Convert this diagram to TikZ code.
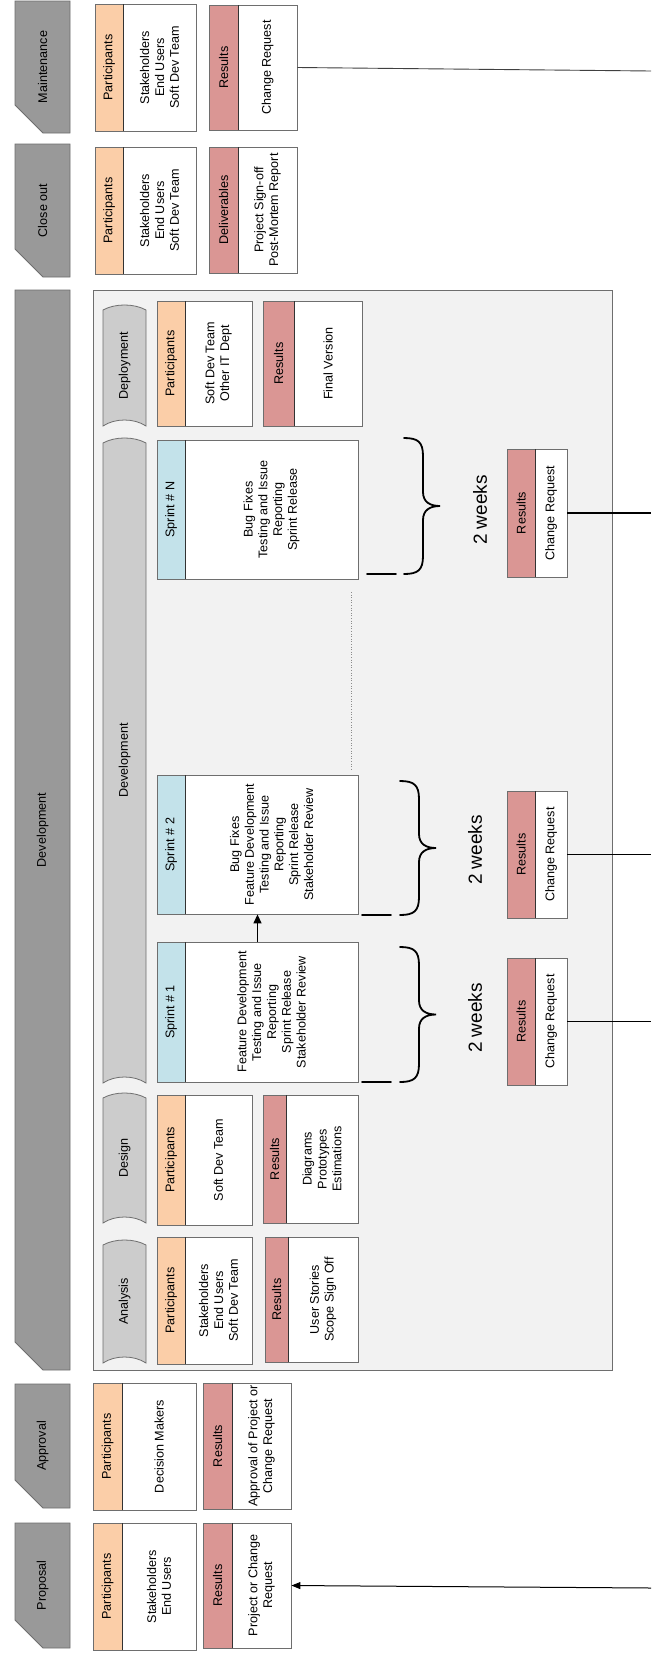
\documentclass[tikz,border=0pt]{standalone}
\usepackage{fontspec}
\setmainfont{Liberation Sans}
\usetikzlibrary{arrows.meta,calc}
\definecolor{phasegray}{HTML}{999999}
\definecolor{bookgray}{HTML}{CCCCCC}
\definecolor{contgray}{HTML}{F2F2F2}
\definecolor{edgegray}{HTML}{6E6E6E}
\definecolor{sepdark}{HTML}{333333}
\definecolor{peach}{HTML}{FBCEA8}
\definecolor{rose}{HTML}{DA9694}
\definecolor{skyb}{HTML}{C3E2EA}
\tikzset{
  base/.style={font=\fontsize{12.6}{14.8}\selectfont, inner sep=0pt, align=center, text=black},
  phase/.style={fill=phasegray, draw=edgegray, line width=0.8pt},
  bookshape/.style={fill=bookgray, draw=edgegray, line width=0.8pt},
  cont/.style={fill=contgray, draw=edgegray, line width=0.8pt},
  stripbox/.style={base, rotate=90, draw=edgegray, line width=0.8pt},
  bodybox/.style={base, rotate=90, fill=white, draw=edgegray, line width=0.8pt},
  sepline/.style={draw=sepdark, line width=0.9pt},
  bracestyle/.style={draw=black, line width=1.8pt, line cap=round},
  weeks/.style={font=\fontsize{19}{21}\selectfont, rotate=90, inner sep=0pt},
  conn/.style={draw=black, line width=1.3pt},
  thinconn/.style={draw=black!75, line width=0.9pt},
}
% name, x0, xs, x1, y0, y1, colour, strip label, body
\newcommand\tagbox[9]{%
  \pgfmathsetmacro\cxa{(#2+#3)/2}\pgfmathsetmacro\cxb{(#3+#4)/2}%
  \pgfmathsetmacro\cyy{(#5+#6)/2}\pgfmathsetmacro\hh{#6-#5}%
  \pgfmathsetmacro\wa{#3-#2}\pgfmathsetmacro\wb{#4-#3}%
  \node[bodybox, minimum width=\hh pt, minimum height=\wb pt] (#1) at (\cxb,\cyy) {#9};
  \node[stripbox, fill=#7, minimum width=\hh pt, minimum height=\wa pt] (#1s) at (\cxa,\cyy) {#8};
  \draw[sepline] (#1s.south west) -- (#1s.south east);
}
% name, y0, y1, label
\newcommand\phaseshape[4]{%
  \draw[phase] (15,#2) -- (70,#2) -- (70,#3) -- (43,#3) -- (15,#3-28) -- cycle;
  \pgfmathsetmacro\cyy{(#2+#3)/2}%
  \node[base, rotate=90] (#1) at (42.5,\cyy) {#4};
}
% name, y0, y1, label
\newcommand\bookshp[4]{%
  \draw[bookshape] (103,#2+5) .. controls (115,#2-1.7) and (134,#2-1.7) .. (146,#2+5)
     -- (146,#3) .. controls (134,#3-8) and (115,#3-8) .. (103,#3) -- cycle;
  \pgfmathsetmacro\cyy{(#2+#3)/2}%
  \node[base, rotate=90] (#1) at (124.5,\cyy) {#4};
}
% x0, y0, y1
\newcommand\wbrace[3]{%
  \pgfmathsetmacro\ym{(#2+#3)/2}%
  \draw[bracestyle] (#1,#2) .. controls (#1+14,#2) and (#1+19,#2+4) .. (#1+19,#2+18)
    -- (#1+19,\ym-14) .. controls (#1+19,\ym-4) and (#1+26,\ym) .. (#1+36,\ym)
    .. controls (#1+26,\ym) and (#1+19,\ym+4) .. (#1+19,\ym+14)
    -- (#1+19,#3-18) .. controls (#1+19,#3-4) and (#1+14,#3) .. (#1,#3);
}
\begin{document}
\begin{tikzpicture}[x=1pt,y=-1pt]
\useasboundingbox (0,0) rectangle (651,1655);
\fill[white] (0,0) rectangle (651,1655);
% phase column
\phaseshape{pMaint}{1}{133}{Maintenance}
\phaseshape{pClose}{144}{277}{Close out}
\phaseshape{pDev}{290}{1370}{Development}
\phaseshape{pAppr}{1384}{1508}{Approval}
\phaseshape{pProp}{1523}{1648}{Proposal}
% maintenance & close out
\tagbox{mPart}{95}{123}{196}{4}{131}{peach}{Participants}{Stakeholders\\End Users\\Soft Dev Team}
\tagbox{mRes}{209}{238}{297}{5}{130}{rose}{Results}{Change Request}
\tagbox{cPart}{95}{123}{196}{147}{274}{peach}{Participants}{Stakeholders\\End Users\\Soft Dev Team}
\tagbox{cDel}{209}{238}{297}{147}{273}{rose}{Deliverables}{Project Sign-off\\Post-Mortem Report}
% development container
\draw[cont] (93,290) rectangle (612,1370);
\bookshp{bDeploy}{305}{426}{Deployment}
\bookshp{bDev}{438}{1083}{Development}
\bookshp{bDesign}{1093}{1223}{Design}
\bookshp{bAnal}{1240}{1363}{Analysis}
\tagbox{dPart}{157}{185}{252}{301}{426}{peach}{Participants}{\fontsize{12.6}{12}\selectfont Soft Dev Team\\Other IT Dept}
\tagbox{dRes}{263}{294}{362}{301}{426}{rose}{Results}{Final Version}
\tagbox{sN}{157}{185}{358}{440}{579}{skyb}{Sprint \# N}{Bug Fixes\\Testing and Issue\\Reporting\\Sprint Release}
\tagbox{sTwo}{157}{185}{358}{775}{914}{skyb}{Sprint \# 2}{Bug Fixes\\Feature Development\\Testing and Issue\\Reporting\\Sprint Release\\Stakeholder Review}
\tagbox{sOne}{157}{185}{358}{942}{1082}{skyb}{Sprint \# 1}{Feature Development\\Testing and Issue\\Reporting\\Sprint Release\\Stakeholder Review}
\tagbox{gPart}{157}{185}{252}{1095}{1225}{peach}{Participants}{Soft Dev Team}
\tagbox{gRes}{263}{286}{358}{1095}{1223}{rose}{Results}{Diagrams\\Prototypes\\Estimations}
\tagbox{aPart}{157}{185}{252}{1237}{1364}{peach}{Participants}{Stakeholders\\End Users\\Soft Dev Team}
\tagbox{aRes}{265}{288}{358}{1237}{1362}{rose}{Results}{User Stories\\Scope Sign Off}
% sprint results
\tagbox{rN}{507}{535}{567}{449}{577}{rose}{Results}{Change Request}
\tagbox{rTwo}{507}{535}{567}{791}{918}{rose}{Results}{Change Request}
\tagbox{rOne}{507}{535}{567}{958}{1085}{rose}{Results}{Change Request}
% braces and durations
\wbrace{404}{438}{574}
\wbrace{400}{781}{915}
\wbrace{400}{947}{1082}
\draw[bracestyle] (367,574) -- (396,574);
\draw[bracestyle] (362,915) -- (391,915);
\draw[bracestyle] (362,1082) -- (391,1082);
\node[weeks] (wN) at (480,510) {2 weeks};
\node[weeks] (wTwo) at (475,850) {2 weeks};
\node[weeks] (wOne) at (475,1018) {2 weeks};
% dotted continuation
\draw[draw=black!45, dotted, line width=0.6pt] (351,592) -- (351,770);
% sprint arrow
\draw[conn, -{Triangle[length=9pt,width=8pt]}] ($(sOnes.north east)!0.5!(sOne.south east)$) -- ($(sTwos.north west)!0.5!(sTwo.south west)$);
% approval & proposal
\tagbox{apPart}{93}{122}{196}{1383}{1510}{peach}{Participants}{Decision Makers}
\tagbox{apRes}{203}{232}{291}{1383}{1509}{rose}{Results}{Approval of Project or\\Change Request}
\tagbox{prPart}{93}{122}{196}{1523}{1650}{peach}{Participants}{Stakeholders\\End Users}
\tagbox{prRes}{203}{232}{291}{1523}{1648}{rose}{Results}{Project or Change\\Request}
% connectors to the right edge
\coordinate (eM) at (651,71);
\coordinate (eP) at (651,1588);
\draw[thinconn] (mRes.south) -- (eM);
\draw[conn] (rN.south) -- (rN.south -| eM);
\draw[conn] (rTwo.south) -- (rTwo.south -| eM);
\draw[conn] (rOne.south) -- (rOne.south -| eM);
\draw[draw=black, line width=1pt, -{Triangle[length=9pt,width=7pt]}] (eP) -- (prRes.south);
\end{tikzpicture}
\end{document}
